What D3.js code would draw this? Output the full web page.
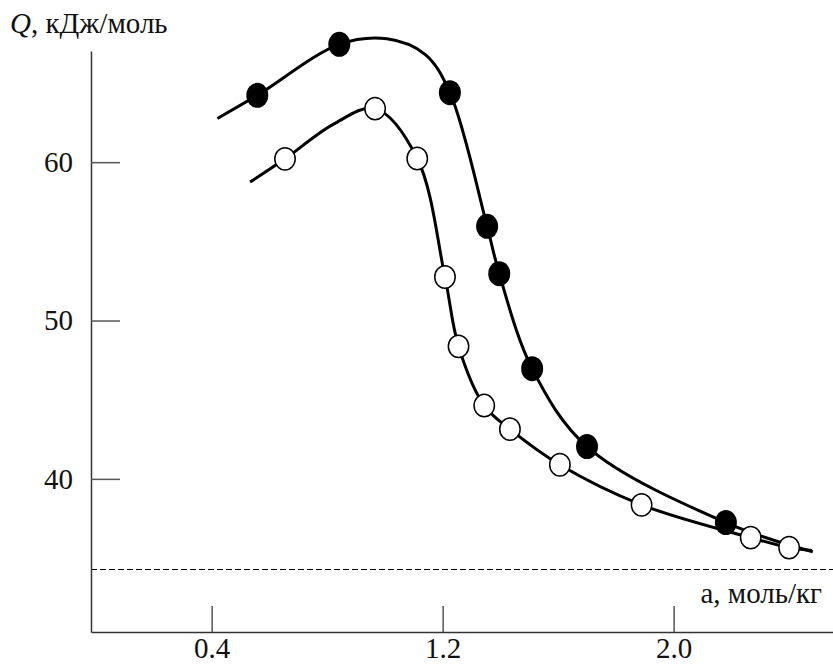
<!DOCTYPE html>
<html>
  <head>
    <meta charset="UTF-8">
    <title>Q vs a</title>
    <style>
      body { margin: 0; background: #fff; }
      svg { display: block; }
      text { font-family: "Liberation Serif", "Times New Roman", serif; fill: #111; }
    </style>
  </head>
  <body>

    <svg></svg>

    <script src="https://d3js.org/d3.v7.min.js"></script>
    <script>

/* DATA */

// filled circles
var filledA = [0.558, 0.842, 1.225, 1.354, 1.396, 1.510, 1.700, 2.181];
var filledQ = [64.22, 67.44, 64.39, 55.95, 52.96, 46.96, 42.04, 37.24];

// open circles
var openA = [0.654, 0.966, 1.112, 1.208, 1.255, 1.344, 1.433, 1.606, 1.889, 2.267, 2.400];
var openQ = [60.21, 63.38, 60.23, 52.75, 48.37, 44.63, 43.14, 40.89, 38.36, 36.29, 35.66];

// the drawn smooth lines (fitted curves)
var fitFilledA = [0.420, 0.558, 0.842, 1.007, 1.139, 1.225, 1.354, 1.396, 1.510, 1.700, 2.181, 2.482];
var fitFilledQ = [62.76, 64.22, 67.44, 67.79, 66.81, 64.39, 55.95, 52.96, 46.96, 42.04, 37.24, 35.40];
var fitOpenA = [0.533, 0.654, 0.821, 0.966, 1.112, 1.208, 1.255, 1.344, 1.433, 1.606, 1.889, 2.267, 2.400, 2.479];
var fitOpenQ = [58.74, 60.21, 62.39, 63.38, 60.23, 52.75, 48.37, 44.63, 43.14, 40.89, 38.36, 36.29, 35.66, 35.47];

var xTicks = [0.4, 1.2, 2.0];
var yTicks = [40, 50, 60];
var baselineQ = 34.31; // dashed line

var config = {
  "width": 833,
  "height": 664,
  "margin": { "top": 51, "right": 0, "bottom": 32, "left": 91 },
  "xDomain": [-0.018, 2.552],
  "yDomain": [30.33, 67.02]
};

var svg = d3.select("svg")
    .attr("width", config.width)
    .attr("height", config.height);

var margin = config.margin,
    width = config.width - margin.left - margin.right,
    height = config.height - margin.top - margin.bottom;

var g = svg.append("g")
    .attr("transform", "translate(" + margin.left + "," + margin.top + ")");

var x = d3.scaleLinear().domain(config.xDomain).range([0, width]);
var y = d3.scaleLinear().domain(config.yDomain).range([height, 0]);

// dashed horizontal line
g.append("line")
  .attr("x1", 0)
  .attr("x2", width)
  .attr("y1", Math.round(y(baselineQ)) + 0.5)
  .attr("y2", Math.round(y(baselineQ)) + 0.5)
  .attr("stroke", "#000")
  .attr("stroke-width", 1)
  .attr("stroke-dasharray", "6,3");

// axes (ticks point inward)
var xAxis = g.append("g")
  .attr("transform", "translate(0," + height + ")")
  .call(d3.axisBottom(x).tickValues(xTicks).tickSize(-26).tickSizeOuter(0).tickPadding(0)
    .tickFormat(d3.format(".1f")));

var yAxis = g.append("g")
  .call(d3.axisLeft(y).tickValues(yTicks).tickSize(-29).tickSizeOuter(0).tickPadding(0));

[xAxis, yAxis].forEach(function(ax) {
  ax.select(".domain").attr("stroke", "#333").attr("stroke-width", 1.5);
  ax.selectAll(".tick line").attr("stroke", "#555").attr("stroke-width", 1.5);
  ax.selectAll(".tick text")
    .attr("font-family", "Liberation Serif, serif")
    .attr("font-size", 29)
    .attr("fill", "#111");
});

xAxis.selectAll(".tick text").attr("y", 26).attr("dy", 0);
yAxis.selectAll(".tick text").attr("x", -18).attr("dy", "0.32em");

// fitted curves
var line = d3.line()
  .x(function(d) { return x(d[0]); })
  .y(function(d) { return y(d[1]); })
  .curve(d3.curveCatmullRom.alpha(0.5));

g.append("path")
  .datum(d3.zip(fitFilledA, fitFilledQ))
  .attr("fill", "none")
  .attr("stroke", "#000")
  .attr("stroke-width", 3)
  .attr("d", line);

g.append("path")
  .datum(d3.zip(fitOpenA, fitOpenQ))
  .attr("fill", "none")
  .attr("stroke", "#000")
  .attr("stroke-width", 3)
  .attr("d", line);

// markers
g.append("g")
  .selectAll("ellipse")
  .data(d3.zip(filledA, filledQ))
  .enter().append("ellipse")
    .attr("cx", function(d) { return x(d[0]); })
    .attr("cy", function(d) { return y(d[1]); })
    .attr("rx", 11)
    .attr("ry", 12.5)
    .attr("fill", "#000");

g.append("g")
  .selectAll("ellipse")
  .data(d3.zip(openA, openQ))
  .enter().append("ellipse")
    .attr("cx", function(d) { return x(d[0]); })
    .attr("cy", function(d) { return y(d[1]); })
    .attr("rx", 10.2)
    .attr("ry", 11.2)
    .attr("fill", "#fff")
    .attr("stroke", "#000")
    .attr("stroke-width", 1.5);

// axis titles
var yTitle = svg.append("text")
  .attr("x", 10)
  .attr("y", 33)
  .attr("font-size", 29);
yTitle.append("tspan").attr("font-style", "italic").text("Q");
yTitle.append("tspan").text(", кДж/моль");

svg.append("text")
  .attr("x", 822)
  .attr("y", 603)
  .attr("font-size", 29)
  .attr("text-anchor", "end")
  .text("а, моль/кг");

    </script>
  </body>
</html>
